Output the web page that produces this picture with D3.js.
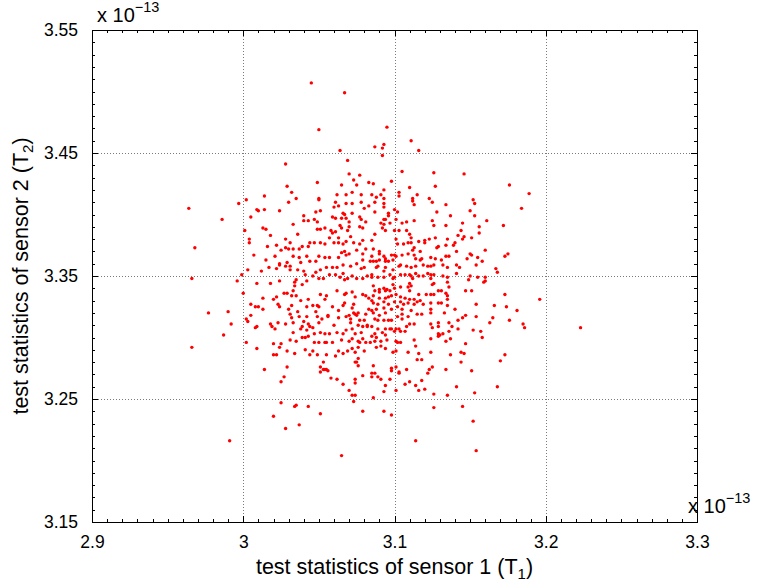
<!DOCTYPE html>
<html>
<head>
<meta charset="utf-8">
<script src="https://cdn.jsdelivr.net/npm/d3@7"></script>
<style>
  html, body { margin: 0; padding: 0; background: #fff; }
  svg { display: block; font-family: "Liberation Sans", Arial, Helvetica, sans-serif; }
</style>
</head>
<body>
<svg id="chart" width="762" height="588"></svg>
<script>
// Axis ranges and tick labels (values in units of 1e-13)
const xDomain = [2.9, 3.3];
const yDomain = [3.15, 3.55];
const xTickValues = [2.9, 3.0, 3.1, 3.2, 3.3];
const xTickLabels = ["2.9", "3", "3.1", "3.2", "3.3"];
const yTickValues = [3.15, 3.25, 3.35, 3.45, 3.55];
const yTickLabels = ["3.15", "3.25", "3.35", "3.45", "3.55"];
const xGridValues = [3.0, 3.1, 3.2];
const yGridValues = [3.25, 3.35, 3.45];

// Test statistic of sensor 1 (T1) for each trial, x 1e-13
const sensor1 = [
  3.045,3.067,3.050,3.064,3.087,3.092,3.093,3.092,3.095,3.111,3.116,
  3.028,3.069,3.070,3.077,3.073,3.083,3.049,3.029,3.065,3.075,
  3.032,3.062,3.068,3.072,3.078,3.014,3.035,3.002,2.997,3.061,
  3.068,3.072,3.078,3.030,3.050,3.050,2.964,3.009,3.010,3.014,
  3.024,3.060,3.063,3.048,3.051,3.066,3.067,3.072,3.080,3.083,
  2.986,3.005,3.040,3.040,3.043,3.047,3.049,3.059,3.061,3.065,
  3.068,3.070,3.077,3.078,3.081,3.033,3.013,3.015,3.001,3.049,
  3.051,3.054,3.058,3.059,3.061,3.065,3.069,3.064,3.070,3.077,
  3.079,3.018,3.036,3.028,3.031,3.004,3.004,3.022,3.016,3.028,
  3.025,3.030,3.033,3.037,3.039,3.043,3.044,3.047,3.051,3.054,
  3.057,3.060,3.063,3.063,3.066,3.068,3.071,3.073,3.077,3.079,
  3.081,2.968,3.007,3.015,3.021,3.024,3.029,3.024,3.028,3.031,
  3.033,3.037,3.038,3.042,3.044,3.048,3.050,3.054,3.057,3.063,
  3.065,3.067,3.068,3.070,3.075,3.079,3.079,3.003,3.012,3.017,
  3.022,3.031,3.036,3.040,3.041,3.048,3.051,3.055,3.059,3.062,
  3.066,3.071,3.075,3.078,3.080,2.966,2.999,2.996,3.009,3.018,
  3.024,3.035,3.034,3.034,3.039,3.042,3.046,3.050,3.053,3.057,
  3.061,3.064,3.066,3.067,3.069,3.072,3.075,3.079,3.082,
  3.105,3.126,3.146,3.098,3.086,3.176,3.110,3.127,3.093,3.189,
  3.103,3.085,3.088,3.091,3.115,3.123,3.103,3.112,3.087,3.093,
  3.125,3.113,3.112,3.152,3.153,3.184,3.134,3.093,3.093,3.128,
  3.150,3.100,3.102,3.087,3.096,3.096,3.153,3.137,3.093,3.094,
  3.101,3.097,3.091,3.093,3.113,3.108,3.105,3.125,3.126,3.134,
  3.145,3.161,3.172,3.092,3.094,3.100,3.103,3.108,3.110,3.156,
  3.156,3.144,3.087,3.085,3.101,3.111,3.116,3.120,3.123,3.127,
  3.135,3.142,3.146,3.145,3.151,3.140,3.139,3.134,3.129,3.128,
  3.120,3.109,3.106,3.111,3.113,3.112,3.102,3.086,3.090,3.090,
  3.160,3.141,3.117,3.085,3.093,3.094,3.098,3.100,3.101,3.105,
  3.109,3.113,3.114,3.118,3.117,3.124,3.134,3.136,3.127,3.131,
  3.150,3.151,3.148,3.155,3.158,3.173,3.175,3.084,3.086,3.088,
  3.090,3.094,3.096,3.099,3.089,3.088,3.094,3.093,3.099,3.103,
  3.104,3.108,3.111,3.114,3.119,3.122,3.126,3.124,3.132,3.135,
  3.141,3.143,3.154,3.167,3.168,3.085,3.085,3.089,3.093,3.097,
  3.099,3.100,3.104,3.107,3.110,3.111,3.112,3.114,3.116,3.119,
  3.122,3.124,3.124,3.126,3.132,3.150,3.149,3.155,3.159,3.160,
  3.160,3.141,3.135,3.086,3.090,3.093,3.095,3.099,3.100,3.104,
  3.109,3.110,3.111,3.125,3.126,3.135,3.136,
  3.000,3.013,3.020,3.022,3.027,3.029,3.033,3.032,3.035,3.038,
  3.043,3.051,3.055,3.054,3.062,3.067,3.068,3.072,3.074,3.079,
  3.081,3.083,3.005,3.008,3.010,3.013,3.023,3.024,3.030,3.032,
  3.036,3.042,3.046,3.049,3.050,3.048,3.056,3.059,3.063,3.066,
  3.067,3.073,3.072,3.073,3.070,3.076,3.081,3.083,2.977,2.990,
  3.005,3.003,2.992,2.987,3.002,3.009,3.008,3.018,3.019,3.023,
  3.028,3.031,3.032,3.033,3.037,3.040,3.042,3.043,3.039,3.044,
  3.049,3.050,3.052,3.056,3.060,3.063,3.068,3.071,3.074,3.075,
  3.071,3.076,3.077,3.080,3.079,3.082,3.021,3.033,3.038,3.042,
  3.047,3.046,3.043,3.051,3.054,3.057,3.062,3.066,3.068,3.072,
  3.074,3.078,3.082,3.079,3.077,3.081,3.002,3.020,3.025,3.031,
  3.035,3.039,3.041,3.047,3.050,3.054,3.055,3.059,3.065,3.070,
  3.072,3.076,2.966,3.009,3.024,3.029,3.034,3.041,3.046,3.049,
  3.055,3.063,3.066,3.069,3.072,3.074,3.076,3.080,3.020,3.022,
  3.044,3.053,3.051,3.053,3.054,3.051,3.055,3.056,3.061,3.074,
  3.075,3.076,3.076,3.014,3.029,3.027,3.025,3.058,3.062,3.066,
  3.074,3.074,3.079,3.070,3.072,3.074,3.073,3.079,3.025,3.035,
  3.034,3.043,3.020,3.051,
  3.087,3.090,3.094,3.097,3.101,3.104,3.107,3.110,3.110,3.113,
  3.116,3.117,3.121,3.124,3.126,3.129,3.131,3.134,3.135,3.135,
  3.147,3.151,3.086,3.090,3.094,3.096,3.098,3.085,3.086,3.089,
  3.093,3.096,3.100,3.104,3.106,3.109,3.113,3.115,3.119,3.124,
  3.129,3.131,3.135,3.140,3.154,3.166,3.174,3.173,3.196,3.181,
  3.085,3.088,3.093,3.098,3.102,3.105,3.105,3.111,3.115,3.118,
  3.124,3.124,3.133,3.086,3.090,3.094,3.087,3.089,3.093,3.096,
  3.098,3.102,3.105,3.109,3.110,3.113,3.108,3.085,3.089,3.094,
  3.097,3.098,3.101,3.103,3.104,3.107,3.100,3.124,3.125,3.129,
  3.129,3.136,3.138,3.142,3.145,3.147,3.154,3.163,3.165,3.176,
  3.185,3.186,3.087,3.092,3.094,3.085,3.088,3.084,3.087,3.091,
  3.095,3.101,3.102,3.104,3.113,3.124,3.129,3.130,3.129,3.132,
  3.134,3.137,3.136,3.142,3.152,3.157,3.158,3.147,3.088,3.091,
  3.094,3.099,3.101,3.109,3.114,3.116,3.124,3.137,3.144,3.146,
  3.170,3.173,3.115,3.118,3.144,3.086,3.098,3.101,3.098,3.103,
  3.103,3.108,3.122,3.123,3.125,3.134,3.151,3.085,3.087,3.085,
  3.089,3.091,3.097,3.107,3.110,3.118,3.094,3.101,3.114,3.116,
  3.120,3.126,3.135,3.141,3.153,3.168,3.093,3.086,3.093,3.098,
  3.126,3.145,
  3.223,2.991,3.028,3.037,3.065,3.114,3.152,3.154
];

// Test statistic of sensor 2 (T2) for the same trials, x 1e-13
const sensor2 = [
  3.507,3.499,3.469,3.452,3.455,3.448,3.457,3.454,3.471,3.460,3.452,
  3.441,3.444,3.433,3.432,3.428,3.426,3.426,3.423,3.424,3.424,
  3.418,3.416,3.416,3.418,3.416,3.415,3.413,3.412,3.409,3.410,
  3.409,3.409,3.410,3.410,3.412,3.413,3.405,3.404,3.403,3.404,
  3.403,3.406,3.407,3.402,3.403,3.401,3.400,3.401,3.405,3.407,
  3.396,3.398,3.399,3.395,3.395,3.396,3.394,3.398,3.397,3.397,
  3.397,3.394,3.398,3.396,3.394,3.392,3.389,3.388,3.387,3.388,
  3.388,3.389,3.387,3.385,3.386,3.389,3.387,3.391,3.390,3.390,
  3.389,3.383,3.384,3.380,3.377,3.380,3.377,3.375,3.374,3.373,
  3.371,3.372,3.372,3.372,3.374,3.374,3.377,3.377,3.377,3.376,
  3.381,3.377,3.381,3.377,3.376,3.378,3.382,3.377,3.376,3.379,
  3.372,3.373,3.367,3.363,3.366,3.360,3.361,3.359,3.358,3.358,
  3.366,3.365,3.361,3.366,3.362,3.362,3.366,3.365,3.365,3.365,
  3.369,3.370,3.367,3.368,3.371,3.368,3.363,3.355,3.354,3.357,
  3.356,3.355,3.355,3.354,3.351,3.353,3.355,3.357,3.357,3.357,
  3.359,3.358,3.360,3.356,3.357,3.348,3.351,3.346,3.344,3.344,
  3.346,3.347,3.345,3.342,3.343,3.346,3.350,3.348,3.348,3.351,
  3.351,3.349,3.352,3.347,3.348,3.350,3.348,3.348,3.350,
  3.435,3.434,3.433,3.427,3.425,3.424,3.422,3.423,3.420,3.417,
  3.418,3.416,3.414,3.416,3.416,3.413,3.415,3.413,3.410,3.413,
  3.410,3.408,3.411,3.412,3.409,3.405,3.408,3.409,3.406,3.402,
  3.403,3.404,3.402,3.402,3.401,3.399,3.399,3.399,3.396,3.396,
  3.396,3.393,3.393,3.392,3.395,3.394,3.393,3.395,3.391,3.391,
  3.393,3.395,3.391,3.389,3.387,3.387,3.387,3.387,3.384,3.390,
  3.385,3.387,3.384,3.379,3.380,3.381,3.378,3.379,3.380,3.381,
  3.380,3.383,3.382,3.380,3.381,3.377,3.375,3.375,3.374,3.373,
  3.377,3.377,3.376,3.377,3.373,3.371,3.376,3.372,3.370,3.368,
  3.371,3.370,3.370,3.366,3.366,3.364,3.367,3.367,3.366,3.367,
  3.368,3.367,3.364,3.364,3.363,3.365,3.366,3.366,3.364,3.363,
  3.368,3.367,3.364,3.365,3.362,3.366,3.368,3.362,3.362,3.362,
  3.363,3.362,3.362,3.363,3.358,3.357,3.357,3.354,3.355,3.358,
  3.359,3.358,3.357,3.358,3.359,3.358,3.359,3.358,3.359,3.357,
  3.359,3.357,3.359,3.356,3.353,3.351,3.349,3.349,3.349,3.351,
  3.348,3.349,3.351,3.351,3.351,3.350,3.348,3.352,3.350,3.350,
  3.352,3.351,3.348,3.351,3.350,3.350,3.347,3.349,3.345,3.349,
  3.346,3.352,3.349,3.342,3.339,3.340,3.339,3.343,3.340,3.341,
  3.341,3.344,3.342,3.343,3.344,3.345,3.341,
  3.336,3.332,3.331,3.333,3.336,3.336,3.338,3.334,3.334,3.330,
  3.331,3.335,3.334,3.331,3.338,3.335,3.336,3.337,3.333,3.335,
  3.334,3.332,3.327,3.325,3.325,3.323,3.327,3.325,3.323,3.326,
  3.321,3.325,3.326,3.326,3.325,3.321,3.318,3.325,3.322,3.326,
  3.328,3.327,3.324,3.320,3.318,3.320,3.319,3.323,3.320,3.321,
  3.318,3.313,3.311,3.302,3.315,3.309,3.308,3.311,3.309,3.312,
  3.311,3.319,3.316,3.312,3.317,3.313,3.317,3.311,3.309,3.309,
  3.317,3.312,3.315,3.317,3.310,3.316,3.317,3.315,3.319,3.318,
  3.312,3.310,3.314,3.314,3.309,3.310,3.307,3.304,3.307,3.306,
  3.303,3.308,3.301,3.304,3.303,3.303,3.304,3.303,3.306,3.307,
  3.303,3.304,3.309,3.299,3.296,3.296,3.296,3.295,3.295,3.298,
  3.297,3.300,3.300,3.296,3.296,3.296,3.296,3.296,3.298,3.297,
  3.299,3.297,3.292,3.291,3.292,3.289,3.287,3.290,3.289,3.286,
  3.286,3.289,3.287,3.289,3.291,3.288,3.292,3.289,3.286,3.286,
  3.286,3.280,3.276,3.274,3.274,3.272,3.274,3.273,3.285,3.280,
  3.280,3.277,3.283,3.274,3.276,3.268,3.264,3.267,3.266,3.262,
  3.266,3.263,3.269,3.257,3.253,3.253,3.248,3.240,3.247,3.245,
  3.244,3.244,3.236,3.238,
  3.338,3.337,3.338,3.338,3.335,3.333,3.332,3.338,3.331,3.331,
  3.335,3.330,3.335,3.335,3.335,3.338,3.338,3.336,3.334,3.331,
  3.338,3.338,3.334,3.332,3.332,3.333,3.334,3.330,3.328,3.327,
  3.329,3.327,3.329,3.329,3.327,3.328,3.327,3.329,3.327,3.328,
  3.328,3.328,3.326,3.323,3.327,3.326,3.325,3.335,3.331,3.322,
  3.322,3.323,3.324,3.323,3.325,3.323,3.319,3.322,3.319,3.319,
  3.323,3.320,3.320,3.320,3.318,3.320,3.315,3.314,3.314,3.314,
  3.314,3.317,3.315,3.317,3.311,3.311,3.309,3.309,3.307,3.307,
  3.307,3.307,3.307,3.307,3.305,3.305,3.305,3.311,3.308,3.312,
  3.309,3.312,3.309,3.314,3.316,3.318,3.317,3.312,3.316,3.314,
  3.311,3.308,3.303,3.304,3.302,3.301,3.300,3.296,3.297,3.297,
  3.298,3.297,3.296,3.296,3.298,3.299,3.303,3.302,3.301,3.303,
  3.297,3.299,3.305,3.307,3.306,3.305,3.300,3.295,3.292,3.293,
  3.291,3.288,3.289,3.288,3.293,3.287,3.288,3.286,3.288,3.287,
  3.281,3.286,3.282,3.282,3.280,3.277,3.275,3.276,3.273,3.272,
  3.271,3.274,3.271,3.274,3.276,3.274,3.273,3.271,3.271,3.268,
  3.268,3.266,3.266,3.262,3.264,3.265,3.261,3.257,3.261,3.257,
  3.258,3.254,3.253,3.260,3.255,3.260,3.256,3.251,3.240,3.237,
  3.243,3.244,
  3.308,3.216,3.226,3.229,3.204,3.216,3.232,3.208
];

const xLabelMain = "test statistics of sensor 1 (T";
const xLabelSub = "1";
const yLabelMain = "test statistics of sensor 2 (T";
const yLabelSub = "2";
const exponentBase = "x 10";
const exponentPower = "\u221213";

const svg = d3.select("#chart");
const plot = { left: 92, top: 30, right: 697, bottom: 522 };

const x = d3.scaleLinear().domain(xDomain).range([plot.left, plot.right]);
const y = d3.scaleLinear().domain(yDomain).range([plot.bottom, plot.top]);

svg.append("rect").attr("width", 762).attr("height", 588).attr("fill", "#fff");

// Dotted grid at the inner major ticks
const grid = svg.append("g")
  .attr("stroke", "#7a7a7a")
  .attr("stroke-width", 1)
  .attr("stroke-dasharray", "1,2")
  .attr("shape-rendering", "crispEdges");
grid.selectAll(".gx").data(xGridValues).join("line")
  .attr("x1", d => Math.round(x(d)) + 0.5).attr("x2", d => Math.round(x(d)) + 0.5)
  .attr("y1", plot.top).attr("y2", plot.bottom);
grid.selectAll(".gy").data(yGridValues).join("line")
  .attr("y1", d => Math.round(y(d)) + 0.5).attr("y2", d => Math.round(y(d)) + 0.5)
  .attr("x1", plot.left).attr("x2", plot.right);

// Scatter of the paired statistics
svg.append("g")
  .selectAll("circle")
  .data(d3.range(sensor1.length))
  .join("circle")
  .attr("cx", i => x(sensor1[i]))
  .attr("cy", i => y(sensor2[i]))
  .attr("r", 1.7)
  .attr("fill", "#ff0000");

// Axes: bottom/left carry labels; top/right mirror the ticks (all inward)
const minorX = d3.range(0, 41).map(i => xDomain[0] + i * 0.01);
const minorY = d3.range(0, 41).map(i => yDomain[0] + i * 0.01);

function styleAxis(g) {
  g.select(".domain").remove();
  g.selectAll("line").attr("stroke", "#000").attr("shape-rendering", "crispEdges");
  g.selectAll("text").attr("fill", "#000").attr("font-size", "17.5px")
    .attr("font-family", "'Liberation Sans', Arial, Helvetica, sans-serif");
}

const bottomMinor = d3.axisBottom(x).tickValues(minorX).tickSize(-3).tickFormat("");
const topMinor = d3.axisTop(x).tickValues(minorX).tickSize(-3).tickFormat("");
const leftMinor = d3.axisLeft(y).tickValues(minorY).tickSize(-3).tickFormat("");
const rightMinor = d3.axisRight(y).tickValues(minorY).tickSize(-3).tickFormat("");

svg.append("g").attr("transform", `translate(0,${plot.bottom})`).call(bottomMinor).call(styleAxis);
svg.append("g").attr("transform", `translate(0,${plot.top})`).call(topMinor).call(styleAxis);
svg.append("g").attr("transform", `translate(${plot.left},0)`).call(leftMinor).call(styleAxis);
svg.append("g").attr("transform", `translate(${plot.right},0)`).call(rightMinor).call(styleAxis);

const bottomMajor = d3.axisBottom(x).tickValues(xTickValues).tickSize(-6).tickPadding(14)
  .tickFormat((d, i) => xTickLabels[i]);
const leftMajor = d3.axisLeft(y).tickValues(yTickValues).tickSize(-6).tickPadding(14)
  .tickFormat((d, i) => yTickLabels[i]);
const topMajor = d3.axisTop(x).tickValues(xTickValues).tickSize(-6).tickFormat("");
const rightMajor = d3.axisRight(y).tickValues(yTickValues).tickSize(-6).tickFormat("");

svg.append("g").attr("transform", `translate(0,${plot.bottom})`).call(bottomMajor).call(styleAxis);
svg.append("g").attr("transform", `translate(${plot.left},0)`).call(leftMajor).call(styleAxis);
svg.append("g").attr("transform", `translate(0,${plot.top})`).call(topMajor).call(styleAxis);
svg.append("g").attr("transform", `translate(${plot.right},0)`).call(rightMajor).call(styleAxis);

// Axes box
svg.append("rect")
  .attr("x", plot.left + 0.5).attr("y", plot.top + 0.5)
  .attr("width", plot.right - plot.left).attr("height", plot.bottom - plot.top)
  .attr("fill", "none").attr("stroke", "#000").attr("stroke-width", 1)
  .attr("shape-rendering", "crispEdges");

// Axis titles with subscripts
const titleFont = "21.5px";
const xt = svg.append("text")
  .attr("x", (plot.left + plot.right) / 2).attr("y", 574)
  .attr("text-anchor", "middle").attr("font-size", titleFont).attr("fill", "#000");
xt.append("tspan").text(xLabelMain);
xt.append("tspan").attr("font-size", "15px").attr("dy", 5).text(xLabelSub);
xt.append("tspan").attr("dy", -5).text(")");

const yt = svg.append("text")
  .attr("transform", `translate(28,${(plot.top + plot.bottom) / 2}) rotate(-90)`)
  .attr("text-anchor", "middle").attr("font-size", titleFont).attr("fill", "#000");
yt.append("tspan").text(yLabelMain);
yt.append("tspan").attr("font-size", "15px").attr("dy", 5).text(yLabelSub);
yt.append("tspan").attr("dy", -5).text(")");

// Exponent multipliers for both axes
function exponent(xPos, yPos) {
  const t = svg.append("text").attr("x", xPos).attr("y", yPos)
    .attr("font-size", "20px").attr("fill", "#000");
  t.append("tspan").text(exponentBase);
  t.append("tspan").attr("font-size", "14.5px").attr("dy", -10).text(exponentPower);
}
exponent(97, 22);
exponent(688, 513);
</script>
</body>
</html>
